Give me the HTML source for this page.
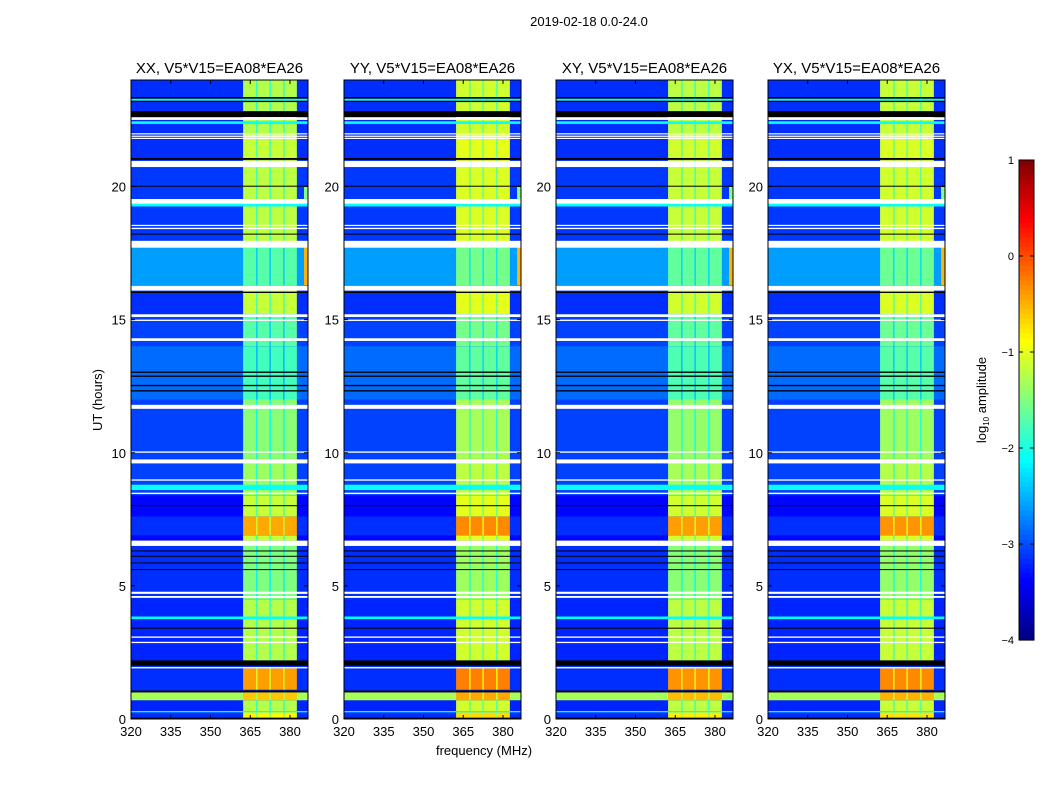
<!DOCTYPE html>
<html><head><meta charset="utf-8"><style>
body{margin:0;background:#fff;}
svg{display:block;font-family:"Liberation Sans",sans-serif;}
</style></head><body>
<svg id="fig" width="1050" height="800" viewBox="0 0 1050 800" xmlns="http://www.w3.org/2000/svg">
<rect width="1050" height="800" fill="#fff"/>
<text x="589" y="26" font-size="13" text-anchor="middle">2019-02-18 0.0-24.0</text>
<text x="102" y="400" font-size="13" text-anchor="middle" transform="rotate(-90 102 400)">UT (hours)</text>
<text x="484" y="755" font-size="13" text-anchor="middle">frequency (MHz)</text>
<g id="panels"></g>
<g id="cbar"></g>
</svg>
<script>
// ---- data ----
const panelTitles = ["XX, V5*V15=EA08*EA26","YY, V5*V15=EA08*EA26","XY, V5*V15=EA08*EA26","YX, V5*V15=EA08*EA26"];
const panelBandOffset = [0, 0.15, 0.05, 0.1];
const freqTicks = [320,335,350,365,380];
const timeTicks = [0,5,10,15,20];
const cbarTicks = [1,0,-1,-2,-3,-4];
// time segments: start, end (UT hours), background log-amp, band log-amp
const segStart = [22.0,20.96,17.7,16.27,15.2,14.0,12.0,9.8,8.4,7.6,6.9,6.7,4.5,2.2,1.1,0.7,0.3,0.0];
const segEnd   = [24.0,22.0,20.96,17.7,16.27,15.2,14.0,12.0,9.8,8.4,7.6,6.9,6.5,4.5,1.9,1.0,0.7,0.3];
const segBg    = [-3.15,-3.15,-3.1,-2.6,-3.15,-3.05,-2.85,-3.05,-3.05,-3.35,-3.15,-3.35,-3.15,-3.2,-3.15,-1.3,-3.2,-3.15];
const segBand  = [-1.25,-1.15,-1.2,-1.7,-1.15,-1.7,-1.8,-1.45,-1.35,-1.15,-0.45,-1.15,-1.5,-1.25,-0.4,-0.6,-1.25,-0.85];
// flagged (white) rows
const flagStart = [22.5,21.97,21.88,21.8,20.73,19.35,18.52,18.4,17.7,16.09,15.1,14.95,14.2,11.65,10.0,9.6,8.95,8.45,6.5,4.7,4.55,3.05,2.85,1.9];
const flagEnd   = [22.6,22.0,21.91,21.83,20.96,19.53,18.56,18.45,17.96,16.27,15.2,15.0,14.3,11.8,10.05,9.75,9.0,8.5,6.7,4.78,4.62,3.1,2.9,1.95];
// black (no data) rows
const blackStart = [23.3,23.17,22.61,21.0,20.0,18.2,16.0,13.0,12.85,12.5,12.3,8.0,6.3,6.1,5.85,5.6,3.4,2.0,1.0,0.02];
const blackEnd   = [23.36,23.22,22.83,21.07,20.03,18.23,16.05,13.05,12.9,12.55,12.35,8.03,6.33,6.13,5.88,5.63,3.43,2.2,1.07,0.05];
// cyan full-width rows
const cyanStart = [23.22,22.35,19.25,8.6,3.75,0.25];
const cyanEnd   = [23.3,22.45,19.35,8.8,3.85,0.3];
// right-edge RFI
const edgeStart = [16.3,19.5];
const edgeEnd   = [17.9,20.0];
const edgeLevel = [-0.5,-1.5];
// frequency structure
const fMin = 320, fMax = 386.8;
const bandLo = 362.3, bandHi = 382.6;
const bandGaps = [367.5,372.5,377.7];

// ---- helpers ----
function jet(v){
  let n=Math.max(0,Math.min(1,(v+4)/5));
  const c=x=>Math.max(0,Math.min(1,x));
  const r=c(Math.min(4*n-1.5,-4*n+4.5)), g=c(Math.min(4*n-0.5,-4*n+3.5)), b=c(Math.min(4*n+0.5,-4*n+2.5));
  return `rgb(${Math.round(r*255)},${Math.round(g*255)},${Math.round(b*255)})`;
}
const NS="http://www.w3.org/2000/svg";
function el(tag,attrs,parent){const e=document.createElementNS(NS,tag);for(const k in attrs)e.setAttribute(k,attrs[k]);parent.appendChild(e);return e;}
const panelX=[131,344,556,768], PW=177, PT=80, PB=719;
const panelsG=document.getElementById('panels');

panelTitles.forEach((title,p)=>{
  const x0=panelX[p];
  const xs=f=>x0+(f-fMin)/(fMax-fMin)*PW;
  const ys=t=>PB-(t/24)*(PB-PT);
  const g=el('g',{},panelsG);
  
  
  el('rect',{x:x0,y:PT,width:PW,height:PB-PT,fill:jet(-3.1)},g);
  segStart.forEach((s,i)=>{
    const y1=ys(segEnd[i]), y2=ys(s);
    const r=el('rect',{x:x0,y:y1,width:PW,height:y2-y1,fill:jet(segBg[i])},g);
    
    
    const b=el('rect',{x:xs(bandLo),y:y1,width:xs(bandHi)-xs(bandLo),height:y2-y1,fill:jet(segBand[i]+panelBandOffset[p])},g);
    
    
    bandGaps.forEach(f=>{
      const gp=el('rect',{x:xs(f)-0.7,y:y1,width:1.4,height:y2-y1,fill:jet(segBand[i]+panelBandOffset[p]-0.7)},g);
      
      
    });
  });
  edgeStart.forEach((s,i)=>{
    const y1=ys(edgeEnd[i]), y2=ys(s);
    const e=el('rect',{x:xs(385.3),y:y1,width:x0+PW-xs(385.3),height:y2-y1,fill:jet(edgeLevel[i])},g);
    
    
  });
  cyanStart.forEach((s,i)=>{
    const y1=ys(cyanEnd[i]), y2=ys(s);
    const c=el('rect',{x:x0,y:y1,width:PW,height:Math.max(1,y2-y1),fill:jet(-2.1)},g);
    
    
  });
  blackStart.forEach((s,i)=>{
    const y1=ys(blackEnd[i]), y2=ys(s);
    const c=el('rect',{x:x0,y:y1,width:PW,height:Math.max(1,y2-y1),fill:'#000'},g);
    
    
  });
  flagStart.forEach((s,i)=>{
    const y1=ys(flagEnd[i]), y2=ys(s);
    const c=el('rect',{x:x0,y:y1,width:PW,height:Math.max(1.2,y2-y1),fill:'#fff'},g);
    
    
  });
  el('rect',{x:x0,y:PT,width:PW,height:PB-PT,fill:'none',stroke:'#000','stroke-width':1},g);
  const tt=el('text',{x:x0+PW/2,y:PT-7,'font-size':15,'text-anchor':'middle'},g);
  tt.textContent=title;
  
  
  freqTicks.forEach(f=>{
    const x=xs(f);
    el('line',{x1:x,x2:x,y1:PB,y2:PB-4,stroke:'#000'},g);
    el('line',{x1:x,x2:x,y1:PT,y2:PT+4,stroke:'#000'},g);
    const t=el('text',{x:x,y:PB+17,'font-size':13,'text-anchor':'middle'},g);
    t.textContent=f;
    
    
  });
  timeTicks.forEach(v=>{
    const y=ys(v);
    el('line',{x1:x0,x2:x0+4,y1:y,y2:y,stroke:'#000'},g);
    el('line',{x1:x0+PW,x2:x0+PW-4,y1:y,y2:y,stroke:'#000'},g);
    const t=el('text',{x:x0-5,y:y+5,'font-size':13,'text-anchor':'end'},g);
    t.textContent=v;
    
    
  });
});

// colorbar
const cb=document.getElementById('cbar');
const cbX=1019, cbW=15, cbT=160, cbB=640;
const cy=v=>cbB-(v+4)/5*(cbB-cbT);
for(let i=0;i<100;i++){
  const v=-4+5*i/100;
  el('rect',{x:cbX,y:cy(v+0.05),width:cbW,height:(cbB-cbT)/100+0.6,fill:jet(v+0.025)},cb);
}
el('rect',{x:cbX,y:cbT,width:cbW,height:cbB-cbT,fill:'none',stroke:'#000'},cb);
cbarTicks.forEach(v=>{
  const y=cy(v);
  el('line',{x1:cbX,x2:cbX+4,y1:y,y2:y,stroke:'#000'},cb);
  el('line',{x1:cbX+cbW,x2:cbX+cbW-4,y1:y,y2:y,stroke:'#000'},cb);
  const t=el('text',{x:cbX-5,y:y+4,'font-size':11,'text-anchor':'end'},cb);
  t.textContent=(v<0?'\u2212'+(-v):v);
  
  
});
const lab=el('text',{x:986,y:400,'font-size':13,'text-anchor':'middle',transform:'rotate(-90 986 400)'},cb);
lab.innerHTML='log<tspan font-size="8" dy="3">10</tspan><tspan dy="-3"> amplitude</tspan>';


</script>
</body></html>
